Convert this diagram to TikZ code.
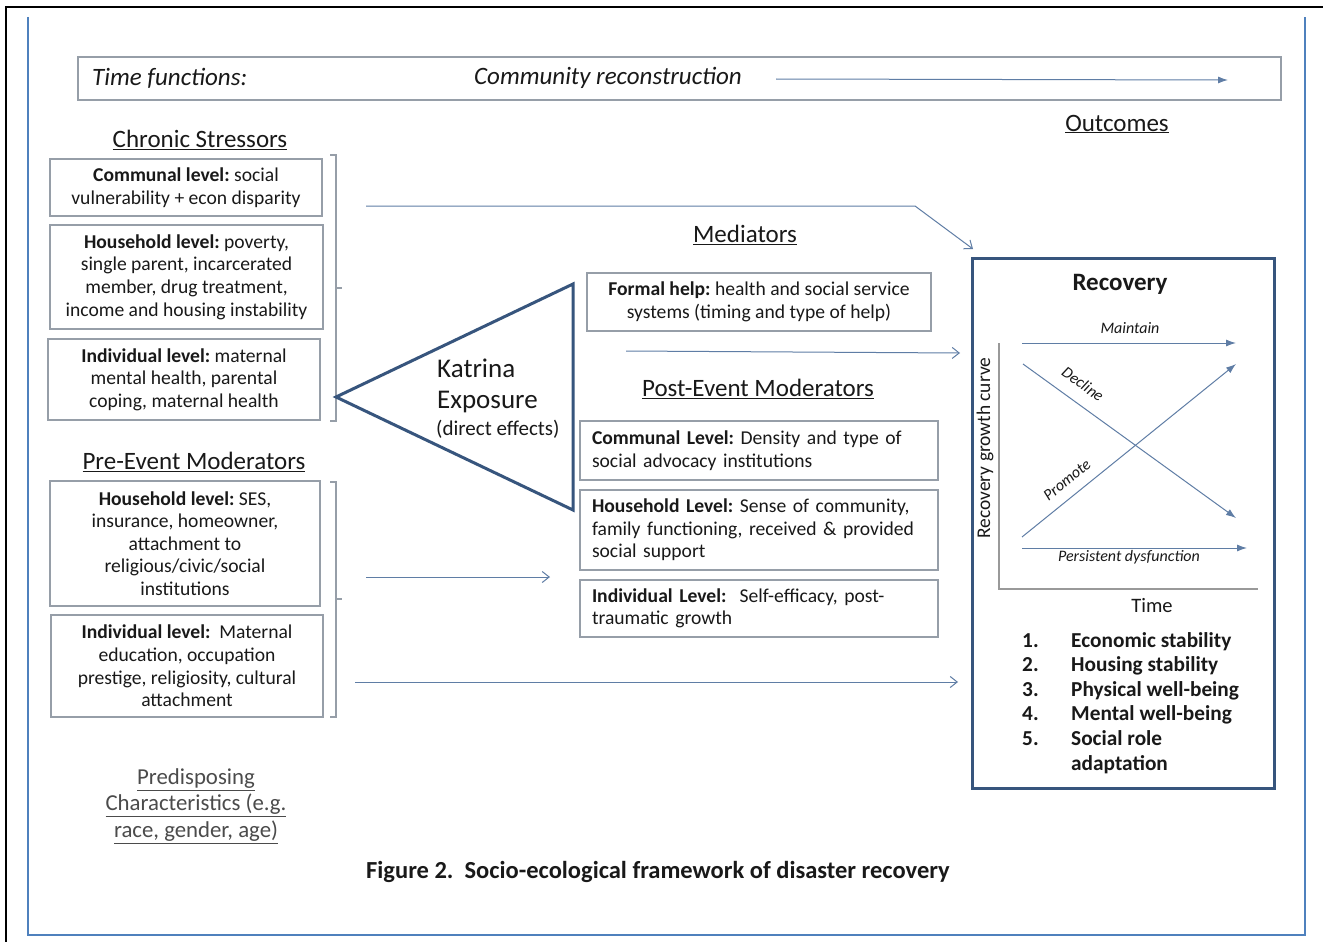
\documentclass[tikz,border=0pt]{standalone}
\usepackage{fontspec}
\setmainfont{Carlito}
\usetikzlibrary{arrows.meta}
\definecolor{boxgray}{RGB}{150,158,168}
\definecolor{linecol}{RGB}{95,125,165}
\definecolor{darkblue}{RGB}{55,85,125}
\definecolor{frameblue}{RGB}{79,129,189}
\definecolor{txt}{RGB}{25,25,25}
\definecolor{graytxt}{RGB}{75,75,75}
\newcommand\fsz[2]{\fontsize{#1}{#2}\selectfont}
\frenchspacing
\begin{document}
\begin{tikzpicture}[x=1pt,y=-1pt,
  every node/.style={text=txt},
  box/.style={draw=boxgray,line width=1.3pt,inner sep=0pt,align=center,font=\fsz{19.6}{22.6}},
  lbox/.style={box,align=left,text width=334pt,inner xsep=12pt},
  head/.style={font=\fsz{25}{28},inner sep=0pt},
  flow/.style={draw=linecol,line width=1pt,-{Straight Barb[length=7pt,width=11pt]}},
  curvearrow/.style={draw=linecol,line width=1pt,-{Latex[length=10pt,width=7pt]}},
  brk/.style={draw=boxgray,line width=1.3pt},
  axis/.style={draw=gray!80,line width=1.3pt},
  clabel/.style={font=\fsz{16}{18}\itshape,inner sep=0pt},
]
\useasboundingbox (0,0) rectangle (1323,942);
\fill[white] (0,0) rectangle (1323,942);
% frames
\draw[black,line width=2.5pt] (6,942) -- (6,7) -- (1323,7);
\draw[frameblue,line width=2pt] (28,17) -- (28,935) -- (1305,935) -- (1305,17);

% time functions bar
\node[draw=boxgray,line width=1.3pt,minimum width=1203pt,minimum height=43pt,inner sep=0pt] (timebar) at (679.5,78.5) {};
\node[font=\fsz{25}{28}\itshape,anchor=west,inner sep=0pt] (timef) at (92,78) {Time functions:};
\node[font=\fsz{25}{28}\itshape,inner sep=0pt] (commrec) at (608,78) {Community reconstruction};
\coordinate (ts) at (776,79);
\coordinate (te) at (1228,80);
\draw[curvearrow] (ts) -- (te);

% headings
\node[head] (hcs) at (200,140) {\underline{Chronic Stressors}};
\node[head] (hpe) at (194,462) {\underline{Pre-Event Moderators}};
\node[head] (hmed) at (745,235) {\underline{Mediators}};
\node[head] (hpo) at (758,389) {\underline{Post-Event Moderators}};
\node[head] (hout) at (1117,124) {\underline{Outcomes}};
\node[font=\fsz{22.8}{26.5},text=graytxt,align=center,inner sep=0pt] (hpred) at (196,806)
  {\underline{Predisposing}\\\underline{Characteristics (e.g.}\\\underline{race, gender, age)}};

% chronic stressor boxes
\node[box,minimum width=272pt,minimum height=57pt] (cs1) at (186,187.5)
  {\textbf{Communal level:} social\\vulnerability + econ disparity};
\node[box,minimum width=273pt,minimum height=104pt] (cs2) at (186.5,277)
  {\textbf{Household level:} poverty,\\single parent, incarcerated\\member, drug treatment,\\income and housing instability};
\node[box,minimum width=272pt,minimum height=81pt] (cs3) at (184,379.5)
  {\textbf{Individual level:} maternal\\mental health, parental\\coping, maternal health};
\draw[brk] (330,155) -- (336,155) -- (336,421) -- (330,421);
\draw[brk] (336,288) -- (342,288);

% pre-event boxes
\node[box,minimum width=270pt,minimum height=125pt] (pe1) at (185,543.5)
  {\textbf{Household level:} SES,\\insurance, homeowner,\\attachment to\\religious/civic/social\\institutions};
\node[box,minimum width=272pt,minimum height=102pt] (pe2) at (187,666)
  {\textbf{Individual level:}\ \ Maternal\\education, occupation\\prestige, religiosity, cultural\\attachment};
\draw[brk] (330,482) -- (336,482) -- (336,717) -- (330,717);
\draw[brk] (336,599) -- (342,599);

% Katrina triangle
\coordinate (apex) at (336,397);
\coordinate (ttop) at (573,284);
\coordinate (tbot) at (573,510);
\draw[darkblue,line width=3pt,line join=miter] (apex) -- (ttop) -- (tbot) -- cycle;
\node[font=\fsz{27}{30},anchor=west,inner sep=0pt] (kat1) at (437,368) {Katrina};
\node[font=\fsz{27}{30},anchor=west,inner sep=0pt] (kat2) at (437,402) {Exposure};
\node[font=\fsz{21}{24},anchor=west,inner sep=0pt] (kat3) at (436,429) {(direct effects)};

% mediators
\node[box,minimum width=344pt,minimum height=58pt] (fh) at (759,302)
  {\textbf{Formal help:} health and social service\\systems (timing and type of help)};

% post-event boxes
\node[lbox,minimum height=59pt] (po1) at (759,450.5)
  {\textbf{Communal Level:} Density and type of\\social advocacy institutions};
\node[lbox,minimum height=80pt] (po2) at (759,530)
  {\textbf{Household Level:} Sense of community,\\family functioning, received \& provided\\social support};
\node[lbox,minimum height=57pt] (po3) at (759,608.5)
  {\textbf{Individual Level:}\ \ Self-efficacy, post-\\traumatic growth};

% recovery box
\node[draw=darkblue,line width=3pt,minimum width=302pt,minimum height=530pt,inner sep=0pt] (rec) at (1123,523) {};
\node[font=\fsz{25}{28}\bfseries,inner sep=0pt] (rectitle) at (1120,284) {Recovery};
\coordinate (yax) at (999,343);
\coordinate (org) at (999,589);
\coordinate (xax) at (1258,589);
\draw[axis] (yax) -- (org) -- (xax);
\node[font=\fsz{19.4}{22},rotate=90,inner sep=0pt] (ylab) at (985,448) {Recovery growth curve};
\node[font=\fsz{20.5}{24},inner sep=0pt] (xlab) at (1152,606) {Time};
\coordinate (m1) at (1022,343); \coordinate (m2) at (1236,343);
\coordinate (d1) at (1023,364); \coordinate (d2) at (1236,518);
\coordinate (p1) at (1022,537); \coordinate (p2) at (1236,364);
\coordinate (s1) at (1022,548); \coordinate (s2) at (1247,548);
\draw[curvearrow] (m1) -- (m2);
\draw[curvearrow] (d1) -- (d2);
\draw[curvearrow] (p1) -- (p2);
\draw[curvearrow] (s1) -- (s2);
\node[clabel] (lmain) at (1130,328) {Maintain};
\node[clabel,rotate=-36] (ldec) at (1083,384) {Decline};
\node[clabel,rotate=39] (lpro) at (1067,480) {Promote};
\node[clabel] (lper) at (1129,557) {Persistent dysfunction};
\node[font=\fsz{21.3}{24.6}\bfseries,anchor=north west,align=left,inner sep=0pt] (outlist) at (1022,632)
  {\makebox[49pt][l]{1.}Economic stability\\
   \makebox[49pt][l]{2.}Housing stability\\
   \makebox[49pt][l]{3.}Physical well-being\\
   \makebox[49pt][l]{4.}Mental well-being\\
   \makebox[49pt][l]{5.}Social role\\
   \makebox[49pt][l]{}adaptation};

% connectors
\coordinate (c1s) at (366,206);
\coordinate (c1m) at (915,206);
\coordinate (c1e) at (973,249);
\draw[flow] (c1s) -- (c1m) -- (c1e);
\coordinate (c2s) at (626,351);
\coordinate (c2e) at (960,353);
\draw[flow] (c2s) -- (c2e);
\coordinate (c3s) at (366,577);
\coordinate (c3e) at (550,577);
\draw[flow] (c3s) -- (c3e);
\coordinate (c4s) at (355,682);
\coordinate (c4e) at (958,682);
\draw[flow] (c4s) -- (c4e);

% caption
\node[font=\fsz{24.5}{28}\bfseries,inner sep=0pt] (caption) at (658,872)
  {Figure 2.\ \ Socio-ecological framework of disaster recovery};
\end{tikzpicture}
\end{document}
